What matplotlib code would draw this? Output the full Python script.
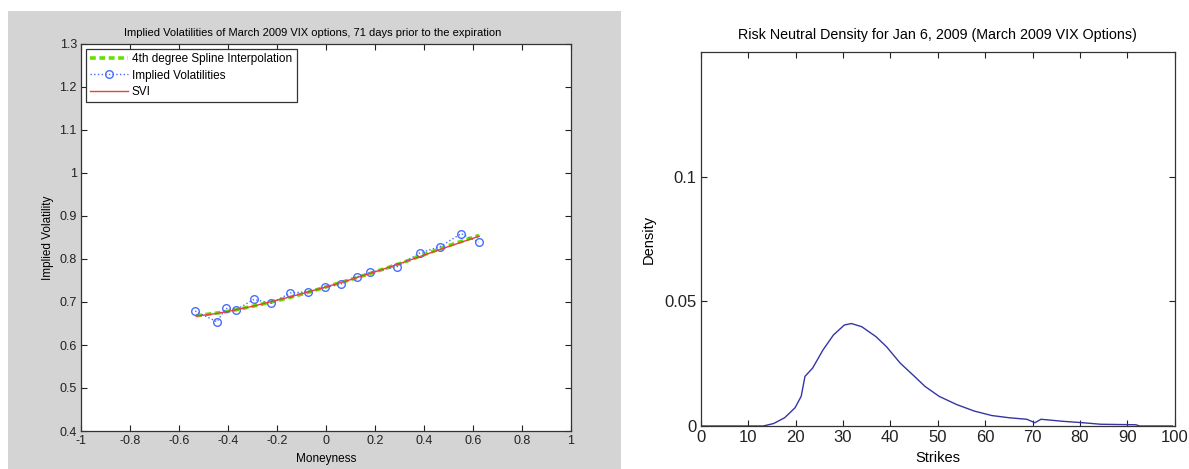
import matplotlib.pyplot as plt
from matplotlib.patches import Rectangle
from matplotlib import font_manager

# left panel: implied vols vs moneyness
moneyness = [-0.534, -0.445, -0.409, -0.367, -0.294, -0.225, -0.145, -0.073, -0.003,
             0.061, 0.125, 0.181, 0.289, 0.383, 0.466, 0.552, 0.623]
implied_vol = [0.679, 0.654, 0.685, 0.682, 0.706, 0.697, 0.721, 0.724, 0.734,
               0.742, 0.758, 0.769, 0.782, 0.814, 0.829, 0.859, 0.839]

fit_x = [-0.53, -0.45, -0.4, -0.3, -0.2, -0.1, 0.0, 0.1, 0.2, 0.3, 0.4, 0.5, 0.625]
spline_y = [0.668, 0.674, 0.678, 0.690, 0.703, 0.718, 0.735, 0.752, 0.770, 0.789, 0.810, 0.831, 0.855]
svi_y = [0.667, 0.673, 0.678, 0.690, 0.704, 0.719, 0.735, 0.752, 0.770, 0.789, 0.809, 0.829, 0.853]

# right panel: risk neutral density
strikes = [0, 5, 10, 13.2, 15.4, 17.7, 19.9, 21.2, 22.0, 23.6, 25.8, 28.0, 30.3, 31.8,
           34.0, 37.0, 39.2, 42.1, 45.1, 47.3, 50.3, 54.0, 57.7, 61.4, 65.1, 68.8,
           70.5, 71.8, 76.3, 80.7, 84.4, 91.8, 92.6, 96, 99.5]
density = [0, 0, 0, 0, 0.0010, 0.0033, 0.0073, 0.0119, 0.0199, 0.0232, 0.0305, 0.0365,
           0.0405, 0.0411, 0.0398, 0.0358, 0.0318, 0.0252, 0.0199, 0.0159, 0.0119, 0.0086,
           0.0060, 0.0042, 0.0033, 0.0027, 0.0013, 0.0027, 0.0019, 0.0013, 0.0007,
           0.0005, 0.0, 0.0, 0.0]

names = {f.name for f in font_manager.fontManager.ttflist}
narrow = 'Liberation Sans Narrow' if 'Liberation Sans Narrow' in names else 'Liberation Sans'
plt.rcParams['font.family'] = ['Liberation Sans', 'DejaVu Sans']

W, H = 1189, 469
fig = plt.figure(figsize=(W / 100, H / 100), dpi=100)
fig.patch.set_facecolor('white')
fig.patches.append(Rectangle((8 / W, 0), 613 / W, 458 / H, transform=fig.transFigure,
                             facecolor='#d4d4d4', edgecolor='none', zorder=-10))


def matlab_axes(ax, fs, fam):
    ax.tick_params(direction='in', top=True, right=True, length=4, width=0.8,
                   labelsize=fs, pad=3, colors='#222222')
    for lbl in ax.get_xticklabels() + ax.get_yticklabels():
        lbl.set_family(fam)
    for s in ax.spines.values():
        s.set_color('#333333')
        s.set_linewidth(0.9)


ax1 = fig.add_axes([81 / W, 38 / H, 490 / W, 387 / H])
ax1.plot(fit_x, spline_y, '--', color='#66e000', lw=2.6, dashes=(1.6, 1.0),
         label='4th degree Spline Interpolation')
ax1.plot(moneyness, implied_vol, ':', color='#4a6cff', lw=1, marker='o', ms=5.5,
         mfc='none', mec='#4a6cff', mew=1, label='Implied Volatilities')
ax1.plot(fit_x, svi_y, '-', color='#e84040', lw=1, label='SVI')
ax1.set_xlim(-1, 1)
ax1.set_ylim(0.4, 1.3)
xt = [-1, -0.8, -0.6, -0.4, -0.2, 0, 0.2, 0.4, 0.6, 0.8, 1]
yt = [0.4, 0.5, 0.6, 0.7, 0.8, 0.9, 1, 1.1, 1.2, 1.3]
ax1.set_xticks(xt)
ax1.set_xticklabels(['%g' % v for v in xt])
ax1.set_yticks(yt)
ax1.set_yticklabels(['%g' % v for v in yt])
matlab_axes(ax1, 9, narrow)
ax1.set_title('Implied Volatilities of March 2009 VIX options, 71 days prior to the expiration',
              fontsize=8, family=narrow, pad=6, x=0.473)
ax1.set_xlabel('Moneyness', fontsize=8.5, family=narrow, labelpad=4)
ax1.set_ylabel('Implied Volatility', fontsize=8.5, family=narrow, labelpad=4)
leg = ax1.legend(loc='upper left', prop={'family': narrow, 'size': 8.5}, fancybox=False,
                 framealpha=1, edgecolor='#333333', borderaxespad=0.4,
                 handlelength=3.2, handletextpad=0.3, labelspacing=0.35, borderpad=0.4)
leg.get_frame().set_linewidth(0.9)

ax2 = fig.add_axes([700.7 / W, 43 / H, 474 / W, 374 / H])
ax2.plot(strikes, density, color='#3535a5', lw=1)
ax2.set_xlim(0, 100)
ax2.set_ylim(0, 0.15)
ax2.set_xticks(range(0, 101, 10))
ax2.set_yticks([0, 0.05, 0.1])
ax2.set_yticklabels(['0', '0.05', '0.1'])
matlab_axes(ax2, 12, 'Liberation Sans')
ax2.set_title('Risk Neutral Density for Jan 6, 2009 (March 2009 VIX Options)',
              fontsize=10.3, pad=9)
ax2.set_xlabel('Strikes', fontsize=10.5, labelpad=4)
ax2.set_ylabel('Density', fontsize=10.5, labelpad=6)

fig.savefig('out.png', dpi=100)
